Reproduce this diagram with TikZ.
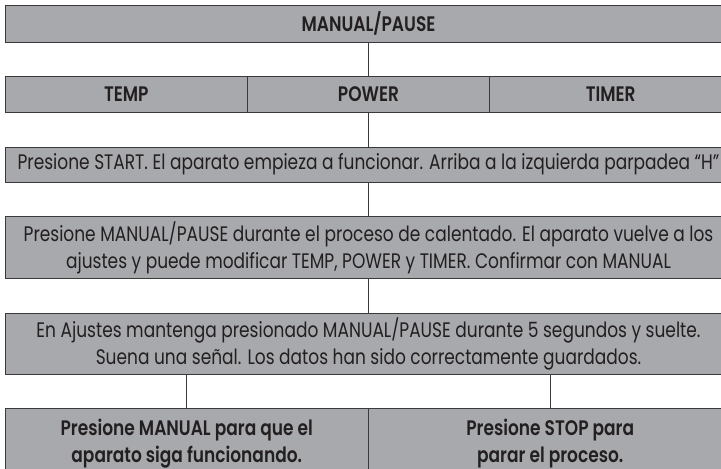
\documentclass[tikz,border=0pt]{standalone}
\usepackage{fontspec}
\setmainfont{Poppins}[FakeStretch=0.81, BoldFont={Poppins SemiBold}]
\definecolor{boxfill}{HTML}{A7A9AC}
\definecolor{boxline}{HTML}{3A3A3A}
\definecolor{txt}{HTML}{231F20}
\begin{document}
\begin{tikzpicture}[x=1pt,y=-1pt,
  box/.style={draw=boxline, fill=boxfill, line width=1pt, inner sep=0pt, anchor=north west,
    text=txt, align=center, font=\fontsize{21}{27}\selectfont},
  head/.style={box, font=\fontsize{21}{27}\selectfont\bfseries},
  link/.style={draw=boxline, line width=1pt}]
\useasboundingbox (0,0) rectangle (721,469);
\coordinate (mid) at (368,0);
\coordinate (lft) at (186.7,0);
\coordinate (rgt) at (550,0);
\node[head, minimum width=727pt, minimum height=36.5pt] (r1) at (4.5,5) {MANUAL/PAUSE};
\node[head, minimum width=242.5pt, minimum height=35.5pt] (tA) at (4.5,76) {TEMP};
\node[head, minimum width=242pt, minimum height=35.5pt] (tB) at (247,76) {POWER};
\node[head, minimum width=242.5pt, minimum height=35.5pt] (tC) at (489,76) {TIMER};
\node[box, minimum width=727pt, minimum height=35pt] (r3) at (4.5,146.5) {Presione START. El aparato empieza a funcionar. Arriba a la izquierda parpadea “H”};
\node[box, minimum width=727pt, minimum height=62pt] (r4) at (4.5,216) {Presione MANUAL/PAUSE durante el proceso de calentado. El aparato vuelve a los\\ajustes y puede modificar TEMP, POWER y TIMER. Confirmar con MANUAL};
\node[box, minimum width=727pt, minimum height=61.5pt] (r5) at (4.5,312.5) {En Ajustes mantenga presionado MANUAL/PAUSE durante 5 segundos y suelte.\\Suena una señal. Los datos han sido correctamente guardados.};
\node[head, minimum width=363.5pt, minimum height=71pt] (sL) at (4.5,408) {Presione MANUAL para que el\\aparato siga funcionando.};
\node[head, minimum width=363.5pt, minimum height=71pt] (sR) at (368,408) {Presione STOP para\\parar el proceso.};
\draw[link] (r1.south -| mid) -- (tB.north -| mid);
\draw[link] (tB.south -| mid) -- (r3.north -| mid);
\draw[link] (r3.south -| mid) -- (r4.north -| mid);
\draw[link] (r4.south -| mid) -- (r5.north -| mid);
\draw[link] (r5.south -| lft) -- (sL.north -| lft);
\draw[link] (r5.south -| rgt) -- (sR.north -| rgt);
\end{tikzpicture}
\end{document}
